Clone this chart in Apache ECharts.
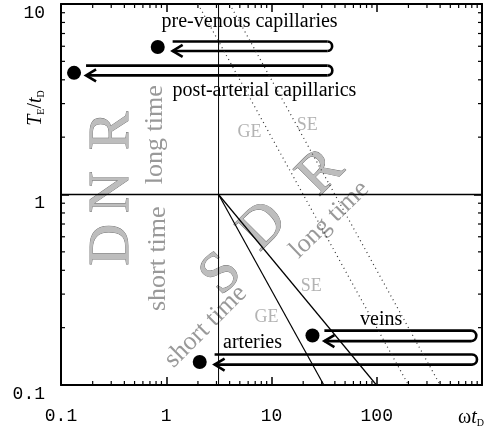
<!DOCTYPE html>
<html>
<head>
<meta charset="utf-8">
<script src="https://cdn.jsdelivr.net/npm/echarts@6/dist/echarts.min.js"></script>
<style>
  html, body { margin: 0; padding: 0; background: #fff; }
  #main { width: 487px; height: 426px; }
</style>
</head>
<body>
<div id="main"></div>
<script>
// tick labels
var xTickLabels = [0.1, 1, 10, 100];
var yTickLabels = [0.1, 1, 10];

// vessels: dot position and the hairpin arrow (left, right, top, bottom)
var vessels = ['pre-venous capillaries', 'post-arterial capillarics', 'veins', 'arteries'];
var vesselX = [0.83, 0.133, 24.5, 2.08];
var vesselY = [5.95, 4.35, 0.182, 0.132];
var loopLeft = [1.15, 0.173, 31.8, 2.88];
var loopRight = [34, 34, 787, 803];
var loopTop = [6.35, 4.75, 0.193, 0.1445];
var loopBottom = [5.67, 4.22, 0.170, 0.128];

// regime boundaries
var splitX = 3.14;
var splitY = 1;
var shortTimeLine = [[3.14, 1], [31.4, 0.1]];
var longTimeLine = [[3.14, 1], [99.3, 0.1]];
var geLine = [[2, 10], [200, 0.1]];
var seLine = [[4, 10], [400, 0.1]];

// text in the plot, placed in data coordinates
var notes = [
    {text: 'D', x: 0.311, y: 0.545, rot: 90, kind: 'big'},
    {text: 'N', x: 0.311, y: 1.03, rot: 90, kind: 'big'},
    {text: 'R', x: 0.311, y: 2.16, rot: 90, kind: 'big'},
    {text: 'S', x: 3.36, y: 0.38, rot: 45, kind: 'big'},
    {text: 'D', x: 8.4, y: 0.677, rot: 45, kind: 'big'},
    {text: 'R', x: 29.8, y: 1.30, rot: 45, kind: 'big'},
    {text: 'long time', x: 0.778, y: 2.06, rot: 90, kind: 'time'},
    {text: 'short time', x: 0.83, y: 0.46, rot: 90, kind: 'time'},
    {text: 'short time', x: 2.37, y: 0.2026, rot: 45, kind: 'time'},
    {text: 'long time', x: 35.5, y: 0.737, rot: 44, kind: 'time'},
    {text: 'GE', x: 6.19, y: 2.13, rot: 0, kind: 'small'},
    {text: 'SE', x: 21.9, y: 2.32, rot: 0, kind: 'small'},
    {text: 'SE', x: 23.9, y: 0.328, rot: 0, kind: 'small'},
    {text: 'GE', x: 8.97, y: 0.226, rot: 0, kind: 'small'},
    {text: 'pre-venous capillaries', x: 6.19, y: 8.05, rot: 0, kind: 'name'},
    {text: 'post-arterial capillarics', x: 8.58, y: 3.50, rot: 0, kind: 'name'},
    {text: 'veins', x: 110, y: 0.2206, rot: 0, kind: 'name'},
    {text: 'arteries', x: 6.6, y: 0.167, rot: 0, kind: 'name'}
];

var noteStyle = {
    big: {font: '58px "Liberation Serif"', fill: '#bdbdbd', stroke: '#6a6a6a', lineWidth: 0.8},
    time: {font: '26px "Liberation Serif"', fill: '#999'},
    small: {font: '18px "Liberation Serif"', fill: '#b3b3b3'},
    name: {font: '20px "Liberation Serif"', fill: '#000'}
};

var serif = '"Liberation Serif", "Times New Roman", serif';
var mono = '"Liberation Mono", "Courier New", monospace';

// minor log ticks (2..9 in each decade)
function minorTicks(lo, hi) {
    var out = [];
    for (var d = lo; d < hi; d *= 10) {
        for (var m = 2; m <= 9; m++) out.push(+(d * m).toPrecision(3));
    }
    return out;
}
var xMinor = minorTicks(0.1, 1000);
var yMinor = minorTicks(0.1, 10);

function isLabel(v, list) {
    for (var i = 0; i < list.length; i++) {
        if (Math.abs(Math.log10(v / list[i])) < 0.01) return String(list[i]);
    }
    return '';
}

var myChart = echarts.init(document.getElementById('main'));

var axisCommon = {
    type: 'log',
    logBase: 10,
    axisLine: {lineStyle: {color: '#000', width: 2}},
    axisTick: {inside: true, length: 8, lineStyle: {color: '#000', width: 1.5}},
    splitLine: {show: false}
};

var loopData = [];
for (var i = 0; i < vessels.length; i++) {
    loopData.push([loopLeft[i], loopRight[i], loopTop[i], loopBottom[i]]);
}
var dotData = [];
for (var j = 0; j < vessels.length; j++) {
    dotData.push({name: vessels[j], value: [vesselX[j], vesselY[j]]});
}

var option = {
    animation: false,
    backgroundColor: '#fff',
    grid: {left: 61, right: 5, top: 4, bottom: 41},
    xAxis: [
        Object.assign({}, axisCommon, {
            min: 0.1, max: 1000, position: 'bottom',
            axisLabel: {
                margin: 22, color: '#000', fontFamily: mono, fontSize: 18,
                formatter: function (v) { return isLabel(v, xTickLabels); }
            }
        }),
        Object.assign({}, axisCommon, {
            min: 0.1, max: 1000, position: 'top', axisLabel: {show: false}
        })
    ],
    yAxis: [
        Object.assign({}, axisCommon, {
            min: 0.1, max: 10, position: 'left',
            axisLabel: {
                margin: 16, color: '#000', fontFamily: mono, fontSize: 18,
                verticalAlign: 'top',
                formatter: function (v) { return isLabel(v, yTickLabels); }
            }
        }),
        Object.assign({}, axisCommon, {
            min: 0.1, max: 10, position: 'right', axisLabel: {show: false}
        })
    ],
    graphic: [
        {
            type: 'text', x: 36, y: 108, rotation: Math.PI / 2,
            style: {
                text: '{i|T}{s|E}{n|/}{i|t}{s|D}',
                align: 'center', verticalAlign: 'middle',
                rich: {
                    i: {fontFamily: serif, fontStyle: 'italic', fontSize: 20, fill: '#000'},
                    n: {fontFamily: serif, fontSize: 20, fill: '#000'},
                    s: {fontFamily: serif, fontSize: 10, fill: '#000', verticalAlign: 'bottom', padding: [8, 0, 0, 0]}
                }
            }
        },
        {
            type: 'text', x: 471, y: 418,
            style: {
                text: '{n|ω}{i|t}{s|D}',
                align: 'center', verticalAlign: 'middle',
                rich: {
                    i: {fontFamily: serif, fontStyle: 'italic', fontSize: 20, fill: '#000'},
                    n: {fontFamily: serif, fontSize: 20, fill: '#000'},
                    s: {fontFamily: serif, fontSize: 10, fill: '#000', verticalAlign: 'bottom', padding: [8, 0, 0, 0]}
                }
            }
        }
    ],
    series: [
        {
            type: 'custom', name: 'minor x', silent: true,
            data: xMinor.map(function (v) { return [v, 0.1]; }),
            renderItem: function (params, api) {
                var b = api.coord([api.value(0), 0.1]);
                var t = api.coord([api.value(0), 10]);
                var st = {stroke: '#000', lineWidth: 1.2};
                return {type: 'group', children: [
                    {type: 'line', shape: {x1: b[0], y1: b[1], x2: b[0], y2: b[1] - 4}, style: st},
                    {type: 'line', shape: {x1: t[0], y1: t[1], x2: t[0], y2: t[1] + 4}, style: st}
                ]};
            }
        },
        {
            type: 'custom', name: 'minor y', silent: true,
            data: yMinor.map(function (v) { return [0.1, v]; }),
            renderItem: function (params, api) {
                var l = api.coord([0.1, api.value(1)]);
                var r = api.coord([1000, api.value(1)]);
                var st = {stroke: '#000', lineWidth: 1.2};
                return {type: 'group', children: [
                    {type: 'line', shape: {x1: l[0], y1: l[1], x2: l[0] + 4, y2: l[1]}, style: st},
                    {type: 'line', shape: {x1: r[0], y1: r[1], x2: r[0] - 4, y2: r[1]}, style: st}
                ]};
            }
        },
        {
            type: 'line', symbol: 'none', silent: true,
            data: [[splitX, 0.1], [splitX, 10]],
            lineStyle: {color: '#000', width: 1}
        },
        {
            type: 'line', symbol: 'none', silent: true,
            data: [[0.1, splitY], [1000, splitY]],
            lineStyle: {color: '#000', width: 1.5}
        },
        {
            type: 'line', symbol: 'none', silent: true,
            data: shortTimeLine, lineStyle: {color: '#000', width: 1.2}
        },
        {
            type: 'line', symbol: 'none', silent: true,
            data: longTimeLine, lineStyle: {color: '#000', width: 1.2}
        },
        {
            type: 'line', symbol: 'none', silent: true,
            data: geLine, lineStyle: {color: '#333', width: 1.2, type: [1, 3.5]}
        },
        {
            type: 'line', symbol: 'none', silent: true,
            data: seLine, lineStyle: {color: '#333', width: 1.2, type: [1, 3.5]}
        },
        {
            type: 'custom', name: 'notes', silent: true,
            data: notes.map(function (n) { return [n.x, n.y]; }),
            renderItem: function (params, api) {
                var n = notes[params.dataIndex];
                var p = api.coord([api.value(0), api.value(1)]);
                var s = noteStyle[n.kind];
                return {
                    type: 'text', x: p[0], y: p[1], rotation: n.rot * Math.PI / 180,
                    style: {
                        text: n.text, font: s.font, fill: s.fill,
                        stroke: s.stroke, lineWidth: s.lineWidth || 0,
                        align: 'center', verticalAlign: 'middle'
                    }
                };
            }
        },
        {
            type: 'custom', name: 'loops', silent: true,
            data: loopData,
            encode: {x: [0, 1], y: [2, 3]},
            renderItem: function (params, api) {
                var a = api.coord([api.value(0), api.value(2)]);
                var b = api.coord([api.value(1), api.value(2)]);
                var c = api.coord([api.value(1), api.value(3)]);
                var d = api.coord([api.value(0), api.value(3)]);
                var k = (c[1] - b[1]) * 0.667;
                var st = {stroke: '#000', lineWidth: 2.6, fill: 'none'};
                return {type: 'group', children: [
                    {type: 'polyline', shape: {points: [a, b]}, style: st},
                    {type: 'bezierCurve', shape: {
                        x1: b[0], y1: b[1], cpx1: b[0] + k, cpy1: b[1],
                        cpx2: c[0] + k, cpy2: c[1], x2: c[0], y2: c[1]
                    }, style: st},
                    {type: 'polyline', shape: {points: [c, d]}, style: st},
                    {type: 'polyline', shape: {points: [[d[0] + 10, d[1] - 6], d, [d[0] + 10, d[1] + 6]]}, style: st}
                ]};
            }
        },
        {
            type: 'scatter', name: 'vessels',
            data: dotData, symbolSize: 14,
            itemStyle: {color: '#000', opacity: 1}
        }
    ]
};

myChart.setOption(option);
window.addEventListener('resize', function () {
    myChart.resize();
});
</script>
</body>
</html>
